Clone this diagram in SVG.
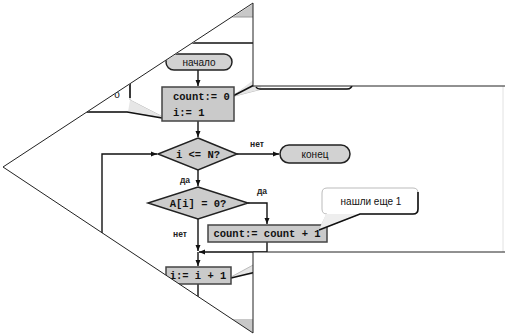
<svg xmlns="http://www.w3.org/2000/svg" width="505" height="336" viewBox="0 0 505 336">
<defs>
<clipPath id="mask"><polygon points="253,4 3,167 253,333 253,252 505,252 505,86 253,86"/></clipPath>
<marker id="ah" viewBox="0 0 6 6" refX="6" refY="3" markerWidth="6" markerHeight="6" orient="auto" markerUnits="userSpaceOnUse"><path d="M0,0.5 L6,3 L0,5.5 Z" fill="#111"/></marker>
<style>
.term{fill:#d2d2d2;stroke:#222;stroke-width:1.5}
.proc{fill:#cacaca;stroke:#444;stroke-width:1.5}
.dec{fill:#cccccc;stroke:#222;stroke-width:1.5}
.code{font-family:"Liberation Mono",monospace;font-weight:bold;font-size:10.5px;fill:#111}
.lbl{font-family:"Liberation Sans",Arial,sans-serif;font-size:10px;fill:#111}
.sm{font-family:"Liberation Sans",Arial,sans-serif;font-size:8.5px;font-weight:bold;fill:#222}
.edge{fill:none;stroke:#111;stroke-width:1.4}
.call{fill:#fff;stroke:#bbb;stroke-width:1}
.calldark{fill:none;stroke:#111;stroke-width:1.6}
</style>
</defs>
<rect width="505" height="336" fill="#fff"/>
<g clip-path="url(#mask)">
<rect x="0" y="0" width="260" height="17" fill="#c8c8c8"/>
<line x1="0" y1="17" x2="260" y2="17" stroke="#999" stroke-width="1"/>
<rect x="0" y="319" width="260" height="17" fill="#c8c8c8"/>
<line x1="0" y1="43" x2="260" y2="43" stroke="#111" stroke-width="1.6"/>
<line x1="503" y1="86" x2="503" y2="252" stroke="#e2e2e2" stroke-width="1"/>
<g id="callout-left">
<path class="call" d="M0,60 H125 Q130,60 130,65 V100 L163,117 L128,112 H0 Z" fill="#fff"/>
<path d="M130,100 L163,117 L128,112 Z" fill="#e6e6e6"/>
<path class="calldark" d="M130,60 V98"/>
<path class="calldark" d="M0,112 H127 L162,118"/>
<text class="lbl" x="117" y="98" text-anchor="middle">о</text>
</g>
<g id="callout-top">
<path class="call" d="M260,40 H347 Q352,40 352,45 V84 Q352,89 347,89 H262 L231,97 L256,80 V45 Q256,40 260,40 Z"/>
<path d="M256,78 L231,97 L262,89 Z" fill="#e6e6e6"/>
<path class="calldark" d="M231,97 L258,83"/>
<path class="calldark" d="M352,84 Q352,89 347,89 H260 Q257,89 256,87"/>
</g>
<g id="callout-bottom">
<path d="M231,277 L258,262 L258,274 Z" fill="#e6e6e6"/>
<path d="M231,277 L255,264" stroke="#bbb" stroke-width="1" fill="none"/>
<path class="calldark" d="M231,278 L256,272"/>
</g>
<g id="connectors">
<path class="edge" d="M198,70 V86" marker-end="url(#ah)"/>
<path class="edge" d="M198,121 V137" marker-end="url(#ah)"/>
<path class="edge" d="M237,154 H279" marker-end="url(#ah)"/>
<path class="edge" d="M198,170 V186" marker-end="url(#ah)"/>
<path class="edge" d="M248,203 H267 V224" marker-end="url(#ah)"/>
<path class="edge" d="M198,219 V251" marker-end="url(#ah)"/>
<path class="edge" d="M267,242 V252 H199" marker-end="url(#ah)"/>
<path class="edge" d="M198,252 V266" marker-end="url(#ah)"/>
<path class="edge" d="M198,284 V310 H102 V154 H157" marker-end="url(#ah)"/>
</g>
<g id="start">
<rect class="term" x="166" y="54" width="66" height="16" rx="8"/>
<text class="lbl" x="199" y="65.5" text-anchor="middle">начало</text>
</g>
<g id="init">
<rect class="proc" x="162" y="87" width="72" height="34"/>
<text class="code" x="173" y="100">count:= 0</text>
<text class="code" x="173" y="116">i:= 1</text>
</g>
<g id="cond1">
<polygon class="dec" points="198,138 237,154 198,170 158,154"/>
<text class="code" x="198" y="158" text-anchor="middle">i &lt;= N?</text>
</g>
<g id="end">
<rect class="term" x="280" y="145" width="70" height="18" rx="9"/>
<text class="lbl" x="315" y="157.5" text-anchor="middle">конец</text>
</g>
<g id="cond2">
<polygon class="dec" points="198,187 248,203 198,219 148,203"/>
<text class="code" x="198" y="207" text-anchor="middle">A[i] = 0?</text>
</g>
<g id="inc-count">
<rect class="proc" x="208" y="225" width="119" height="17"/>
<text class="code" x="267" y="237" text-anchor="middle">count:= count + 1</text>
</g>
<g id="inc-i">
<rect class="proc" x="166" y="267" width="65" height="17"/>
<text class="code" x="198" y="279" text-anchor="middle">i:= i + 1</text>
</g>
<g id="labels">
<text class="sm" x="257" y="147" text-anchor="middle">нет</text>
<text class="sm" x="185" y="183" text-anchor="middle">да</text>
<text class="sm" x="262" y="194" text-anchor="middle">да</text>
<text class="sm" x="180" y="237" text-anchor="middle">нет</text>
</g>
<g id="callout-found">
<path class="call" d="M327,188 H413 Q418,188 418,193 V209 Q418,214 413,214 H360 L319,230 L327,214 Q322,214 322,209 V193 Q322,188 327,188 Z"/>
<path d="M326,214 L319,230 L360,214 Z" fill="#eee"/>
<path class="calldark" d="M418,192 V209 Q418,214 413,214 H360 L319,230"/>
<text class="lbl" x="371" y="205" text-anchor="middle" font-size="11px">нашли еще 1</text>
</g>
</g>
<polyline points="505,86 253,86 253,3 3,167 253,333 253,252 505,252" fill="none" stroke="#222" stroke-width="1"/>
</svg>
